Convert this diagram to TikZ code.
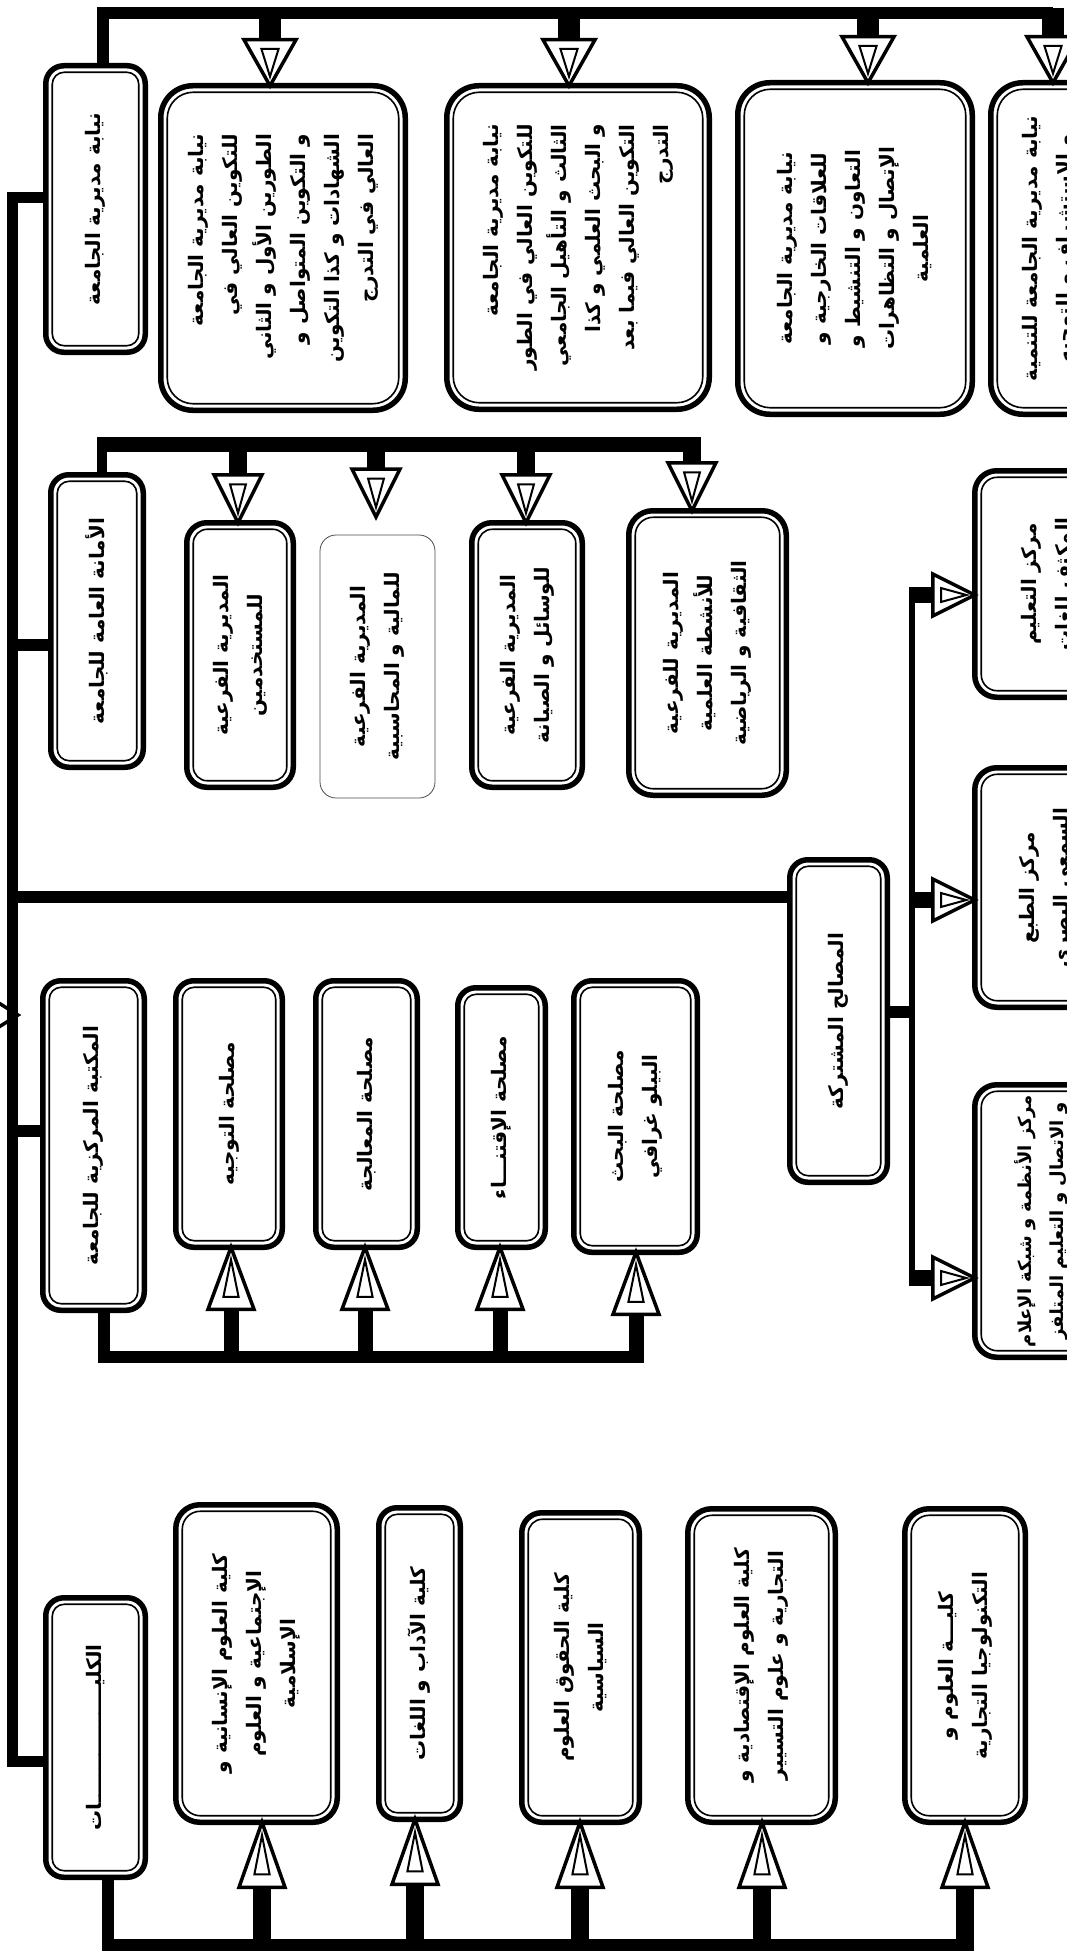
\documentclass[tikz,border=0pt]{standalone}
\usepackage{fontspec}
\newfontfamily\arfont[Script=Arabic]{DejaVu Sans}
\TeXXeTstate=1
\newcommand\AR[1]{\beginR #1\endR}
\tikzset{
  artxt/.style={font={\arfont\bfseries\fontsize{20}{34}\selectfont}},
  smtxt/.style={font={\arfont\bfseries\fontsize{18}{32}\selectfont}},
  spine/.style={line width=11pt, line join=miter},
  bus/.style={line width=12pt, line join=miter},
  vline/.style={line width=6pt, line join=miter},
}
% #1 radius, #2 name, #3 x1, #4 y1, #5 x2, #6 y2, #7 align, #8 text
\newcommand\obox[8][18]{%
  \node[draw=black, line width=5.5pt, rounded corners=#1pt, fill=white, inner sep=0pt, outer sep=0pt,
        minimum width={#5-#3-5.5}, minimum height={#6-#4-5.5}] (#2) at ({(#3+#5)/2},{(#4+#6)/2}) {};
  \draw[line width=1.6pt, rounded corners={#1pt-6pt}] ([xshift=6.5pt,yshift=-6.5pt]#2.north west) rectangle ([xshift=-6.5pt,yshift=6.5pt]#2.south east);
  \node[rotate=90, align=#7, artxt, inner sep=0pt] (#2t) at (#2.center) {#8};}
% #1 tip, #2 angle, #3 length, #4 half width
\newcommand\ahead[4]{%
  \begin{scope}[shift={(#1)}, x=1pt, y=1pt, rotate=#2]
    \draw[line width=3.5pt, line join=miter, fill=white] (0,0) -- (-#3,#4) -- (-#3,-#4) -- cycle;
    \draw[line width=2pt, line join=miter] ({-0.2*#3},0) -- ({-0.8*#3},{0.33*#4}) -- ({-0.8*#3},{-0.33*#4}) -- cycle;
  \end{scope}}
\begin{document}
\begin{tikzpicture}[x=1pt,y=-1pt]
\useasboundingbox (0,0) rectangle (1067,1958);
\clip (0,0) rectangle (1067,1958);

% ---------- spine coordinates ----------
\coordinate (sp1) at (12,198);
\coordinate (sp2) at (12,645);
\coordinate (sp3) at (12,897);
\coordinate (sp4) at (12,1131);
\coordinate (sp5) at (12,1761);
\coordinate (root) at (18,1015);

% ---------- group 1 ----------
\obox[18]{b1}{43}{63}{148}{355}{center}{\AR{نيابة مديرية الجامعة}}
\obox[32]{b2}{158}{83}{408}{413}{right}{\AR{نيابة مديرية الجامعة}\\\AR{للتكوين العالي في}\\\AR{الطورين الأول و الثاني}\\\AR{و التكوين المتواصل و}\\\AR{الشهادات و كذا التكوين}\\\AR{العالي في التدرج}}
\obox[32]{b3}{444}{83}{712}{412}{right}{\AR{نيابة مديرية الجامعة}\\\AR{للتكوين العالي في الطور}\\\AR{الثالث و التأهيل الجامعي}\\\AR{و البحث العلمي و كذا}\\\AR{التكوين العالي فيما بعد}\\\AR{التدرج}}
\obox[32]{b4}{735}{80}{975}{417}{center}{\AR{نيابة مديرية الجامعة}\\\AR{للعلاقات الخارجية و}\\\AR{التعاون و التنشيط و}\\\AR{الإتصال و التظاهرات}\\\AR{العلمية}}
\obox[32]{b5}{988}{80}{1110}{417}{center}{\AR{نيابة مديرية الجامعة للتنمية}\\\AR{و الاستشراف و التوجيه}}

\coordinate (t0) at (103,13);
\coordinate (t5) at (1053,13);
\coordinate (a1) at (270,8);
\coordinate (a2) at (569,8);
\coordinate (a3) at (868,8);
\coordinate (a4) at (1053,8);
\draw[bus] (t0 |- b1.north) -- (t0) -- (t5);
\foreach \a/\b in {a1/b2,a2/b3,a3/b4,a4/b5}{
  \draw[line width=22pt, shorten >=44pt] (\a) -- (\a |- \b.north);
  \ahead{\a |- \b.north}{-90}{46}{26}
}

% ---------- group 2 ----------
\obox[18]{ga}{48}{472}{146}{770}{center}{\AR{الأمانة العامة للجامعة}}
\obox[20]{g1}{184}{520}{296}{790}{center}{\AR{المديرية الفرعية}\\\AR{للمستخدمين}}
\node[draw=black!70, line width=0.8pt, rounded corners=16pt, fill=white, inner sep=0pt,
      minimum width=115, minimum height=263] (g2) at (377.5,666.5) {};
\node[rotate=90, align=center, artxt, inner sep=0pt] (g2t) at (g2.center) {\AR{المديرية الفرعية}\\\AR{للمالية و المحاسبية}};
\obox[20]{g3}{469}{520}{585}{790}{center}{\AR{المديرية الفرعية}\\\AR{للوسائل و الصيانة}}
\obox[24]{g4}{626}{508}{789}{798}{center}{\AR{المديرية للفرعية}\\\AR{للأنشطة العلمية}\\\AR{الثقافية و الرياضية}}

\coordinate (u0) at (102,444);
\coordinate (u4) at (692,444);
\coordinate (m1) at (238,438);
\coordinate (m2) at (376,438);
\coordinate (m3) at (526,438);
\coordinate (m4) at (692,438);
\coordinate (m2tip) at (376,517);
\draw[line width=10pt] (u0 |- ga.north) -- ([yshift=-5pt]u0);
\draw[line width=15pt] ([xshift=-5pt]u0) -- ([xshift=9pt]u4);
\foreach \a/\b in {m1/g1,m3/g3,m4/g4}{
  \draw[line width=18pt, shorten >=46pt] (\a) -- (\a |- \b.north);
  \ahead{\a |- \b.north}{-90}{48}{24}
}
\draw[line width=18pt, shorten >=46pt] (m2) -- (m2tip);
\ahead{m2tip}{-90}{48}{24}

% ---------- group 3 ----------
\obox[18]{lib}{40}{978}{147}{1313}{center}{\AR{المكتبة المركزية للجامعة}}
\obox[18]{l1}{173}{978}{285}{1250}{center}{\AR{مصلحة التوجيه}}
\obox[18]{l2}{313}{978}{420}{1250}{center}{\AR{مصلحة المعالجة}}
\obox[18]{l3}{455}{985}{548}{1250}{center}{\AR{مصلحة الإقتنـــاء}}
\obox[18]{l4}{571}{978}{700}{1255}{center}{\AR{مصلحة البحث}\\\AR{البيلو غرافي}}

\coordinate (v0) at (104,1357);
\coordinate (v4) at (636,1357);
\coordinate (n1) at (231,1357);
\coordinate (n2) at (365,1357);
\coordinate (n3) at (500,1357);
\coordinate (n4) at (636,1357);
\draw[bus] (v0 |- lib.south) -- (v0) -- ([xshift=8pt]v4);
\foreach \a/\b in {n1/l1,n2/l2,n3/l3,n4/l4}{
  \draw[line width=15pt, shorten >=60pt] (\a) -- (\a |- \b.south);
  \ahead{\a |- \b.south}{90}{62}{23}
}

% ---------- common services ----------
\obox[18]{svc}{787}{857}{890}{1185}{center}{\AR{المصالح المشتركة}}
\obox[22]{c1}{972}{468}{1120}{700}{center}{\AR{مركز التعليم}\\\AR{المكثف للغات}}
\obox[22]{c2}{972}{765}{1120}{1010}{center}{\AR{مركز الطبع}\\\AR{السمعي البصري}}
\node[draw=black, line width=5.5pt, rounded corners=22pt, fill=white, inner sep=0pt, outer sep=0pt,
      minimum width=132.5, minimum height=272.5] (c3) at (1041,1221) {};
\draw[line width=1.6pt, rounded corners=16pt] ([xshift=6.5pt,yshift=-6.5pt]c3.north west) rectangle ([xshift=-6.5pt,yshift=6.5pt]c3.south east);
\node[rotate=90, align=center, smtxt, inner sep=0pt] (c3t) at (c3.center) {\AR{مركز الأنظمة و شبكة الإعلام}\\\AR{و الاتصال و التعليم المتلفز}};

\coordinate (w0) at (912,1012);
\coordinate (w1) at (909,595);
\coordinate (w2) at (909,900);
\coordinate (w3) at (909,1278);
\draw[vline] (912,595) -- (912,1278);
\draw[line width=12pt] (svc.east |- w0) -- (w0);
\foreach \a/\b in {w1/c1,w2/c2,w3/c3}{
  \draw[line width=16pt, shorten >=40pt] (\a) -- (\a -| \b.west);
  \ahead{\a -| \b.west}{0}{42}{21}
}

% ---------- faculties ----------
\obox[18]{fac}{43}{1595}{148}{1880}{center}{\AR{الكليـــــــــــــــــات}}
\obox[24]{f1}{173}{1502}{340}{1825}{center}{\AR{كلية العلوم الإنسانية و}\\\AR{الإجتماعية و العلوم}\\\AR{الإسلامية}}
\obox[18]{f2}{376}{1505}{463}{1822}{center}{\AR{كلية الآداب و اللغات}}
\obox[20]{f3}{519}{1510}{642}{1825}{center}{\AR{كلية الحقوق العلوم}\\\AR{السياسية}}
\obox[24]{f4}{685}{1506}{838}{1825}{center}{\AR{كلية العلوم الإقتصادية و}\\\AR{التجارية و علوم التسيير}}
\obox[24]{f5}{902}{1506}{1028}{1825}{center}{\AR{كليـــة العلوم و}\\\AR{التكنولوجيا التجارية}}

\coordinate (x0) at (108,1945);
\coordinate (x5) at (965,1945);
\coordinate (k1) at (262,1945);
\coordinate (k2) at (415,1945);
\coordinate (k3) at (580,1945);
\coordinate (k4) at (762,1945);
\coordinate (k5) at (965,1945);
\draw[bus] (x0 |- fac.south) -- (x0) -- ([xshift=9pt]x5);
\foreach \a/\b in {k1/f1,k2/f2,k3/f3,k4/f4,k5/f5}{
  \draw[line width=18pt, shorten >=63pt] (\a) -- (\a |- \b.south);
  \ahead{\a |- \b.south}{90}{65}{23}
}

% ---------- main spine ----------
\draw[spine] (sp1 -| b1.west) -- (sp1) -- (sp5) -- (sp5 -| fac.west);
\draw[line width=12pt] (sp2) -- (sp2 -| ga.west);
\draw[line width=12pt] (sp3) -- (sp3 -| svc.west);
\draw[line width=12pt] (sp4) -- (sp4 -| lib.west);
\draw[line width=3.5pt, line join=miter] ([shift={(-48,-30)}]root) -- (root) -- ([shift={(-48,30)}]root);
\end{tikzpicture}
\end{document}
